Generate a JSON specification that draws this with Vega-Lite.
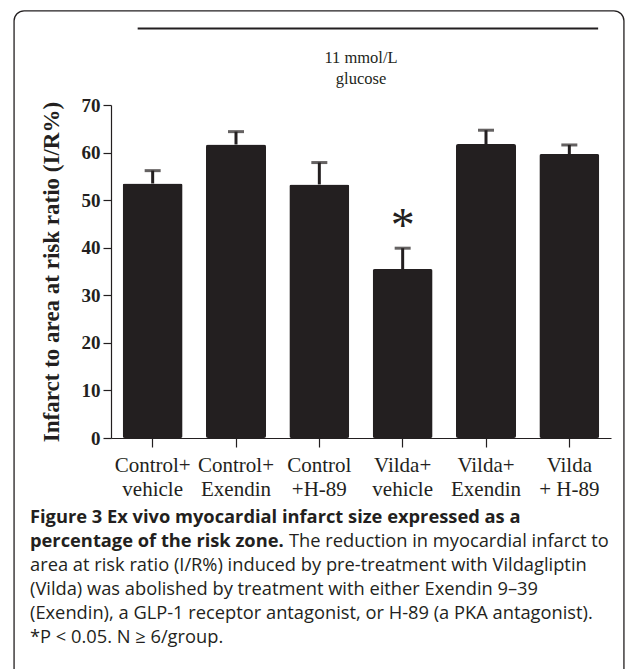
{
  "$schema": "https://vega.github.io/schema/vega-lite/v6.json",
  "autosize": {"type": "none"},
  "width": 500,
  "height": 333,
  "padding": {"left": 111, "top": 105, "right": 24, "bottom": 231},
  "background": "white",
  "config": {
    "view": {"stroke": null},
    "axis": {"domainColor": "#231f20", "tickColor": "#231f20", "labelColor": "#231f20", "titleColor": "#231f20", "grid": false, "domainWidth": 1.2, "tickWidth": 1.2}
  },
  "title": {
    "text": ["Figure 3 Ex vivo myocardial infarct size expressed as a", "percentage of the risk zone."],
    "subtitle": ["\u200b\u2003\u2003\u2003\u2003\u2003\u2003\u2003\u2003\u2003\u2003\u2003\u2003\u2003\u2003\u2009The reduction in myocardial infarct to", "area at risk ratio (I/R%) induced by pre-treatment with Vildagliptin", "(Vilda) was abolished by treatment with either Exendin 9\u201339", "(Exendin), a GLP-1 receptor antagonist, or H-89 (a PKA antagonist).", "*P < 0.05. N \u2265 6/group."],
    "orient": "bottom",
    "anchor": "start",
    "frame": "group",
    "dx": -81,
    "dy": 0,
    "offset": -182,
    "font": "Open Sans",
    "fontSize": 18.3,
    "fontWeight": "bold",
    "lineHeight": 24,
    "color": "#231f20",
    "subtitleFont": "Open Sans",
    "subtitleFontSize": 18.3,
    "subtitleFontWeight": "normal",
    "subtitleLineHeight": 24,
    "subtitleColor": "#231f20",
    "subtitlePadding": -18.3
  },
  "datasets": {
    "bars": [
      {"group": "Control+\nvehicle", "mean": 53.5, "upper": 56.2, "sig": ""},
      {"group": "Control+\nExendin", "mean": 61.7, "upper": 64.4, "sig": ""},
      {"group": "Control\n+H-89", "mean": 53.3, "upper": 57.9, "sig": ""},
      {"group": "Vilda+\nvehicle", "mean": 35.5, "upper": 39.9, "sig": "*"},
      {"group": "Vilda+\nExendin", "mean": 61.8, "upper": 64.7, "sig": ""},
      {"group": "Vilda\n+ H-89", "mean": 59.7, "upper": 61.6, "sig": ""}
    ],
    "header": [
      {"label": ["11 mmol/L", "glucose"], "level": 86.1, "textLevel": 78.8, "frameTop": 89.8, "frameBottom": -53}
    ]
  },
  "layer": [
    {
      "data": {"name": "bars"},
      "mark": {"type": "bar", "color": "#231f20", "cornerRadius": 2},
      "encoding": {
        "x": {
          "field": "group", "type": "nominal", "sort": null,
          "scale": {"domain": ["Control+\nvehicle", "Control+\nExendin", "Control\n+H-89", "Vilda+\nvehicle", "Vilda+\nExendin", "Vilda\n+ H-89"], "paddingInner": 0.28, "paddingOuter": 0.14},
          "axis": {
            "title": null, "labelAngle": 0,
            "labelExpr": "split(datum.label, '\\n')",
            "labelFont": "Liberation Serif", "labelFontSize": 21, "labelLineHeight": 24,
            "tickSize": 9, "labelPadding": 7
          }
        },
        "y": {
          "field": "mean", "type": "quantitative",
          "scale": {"domain": [0, 70], "nice": false},
          "axis": {
            "values": [0, 10, 20, 30, 40, 50, 60, 70],
            "title": "Infarct to area at risk ratio (I/R%)",
            "titleFont": "Liberation Serif", "titleFontWeight": "bold", "titleFontSize": 23,
            "titlePadding": 18,
            "labelFont": "Liberation Serif", "labelFontWeight": "bold", "labelFontSize": 19,
            "tickSize": 8, "labelPadding": 3
          }
        }
      }
    },
    {
      "data": {"name": "bars"},
      "mark": {"type": "rule", "color": "#231f20", "strokeWidth": 3},
      "encoding": {
        "x": {"field": "group", "type": "nominal", "sort": null},
        "y": {"field": "mean", "type": "quantitative"},
        "y2": {"field": "upper"}
      }
    },
    {
      "data": {"name": "bars"},
      "mark": {"type": "tick", "color": "#231f20", "thickness": 3, "size": 16, "orient": "horizontal"},
      "encoding": {
        "x": {"field": "group", "type": "nominal", "sort": null},
        "y": {"field": "upper", "type": "quantitative"}
      }
    },
    {
      "data": {"name": "bars"},
      "transform": [{"filter": "datum.sig != ''"}],
      "mark": {"type": "text", "font": "Liberation Serif", "fontSize": 48, "color": "#231f20", "baseline": "alphabetic", "dy": -7},
      "encoding": {
        "x": {"field": "group", "type": "nominal", "sort": null},
        "y": {"field": "upper", "type": "quantitative"},
        "text": {"field": "sig"}
      }
    },
    {
      "data": {"name": "header"},
      "mark": {"type": "rule", "color": "#231f20", "strokeWidth": 2, "clip": false},
      "encoding": {
        "x": {"datum": "Control+\nvehicle", "bandPosition": 0.25},
        "x2": {"datum": "Vilda\n+ H-89", "bandPosition": 0.98},
        "y": {"field": "level", "type": "quantitative"}
      }
    },
    {
      "data": {"name": "header"},
      "mark": {"type": "text", "font": "Liberation Serif", "fontSize": 16.5, "lineHeight": 20.5, "color": "#231f20", "baseline": "alphabetic", "align": "center", "clip": false},
      "encoding": {
        "x": {"datum": "Control\n+H-89", "bandPosition": 1.195},
        "y": {"field": "textLevel", "type": "quantitative"},
        "text": {"field": "label"}
      }
    },
    {
      "data": {"name": "header"},
      "mark": {"type": "rect", "fillOpacity": 0, "stroke": "#231f20", "strokeWidth": 1.3, "cornerRadius": 10, "clip": false},
      "encoding": {
        "x": {"datum": "Control+\nvehicle", "bandPosition": -1.81},
        "x2": {"datum": "Vilda\n+ H-89", "bandPosition": 1.41},
        "y": {"field": "frameTop", "type": "quantitative"},
        "y2": {"field": "frameBottom"}
      }
    }
  ]
}
